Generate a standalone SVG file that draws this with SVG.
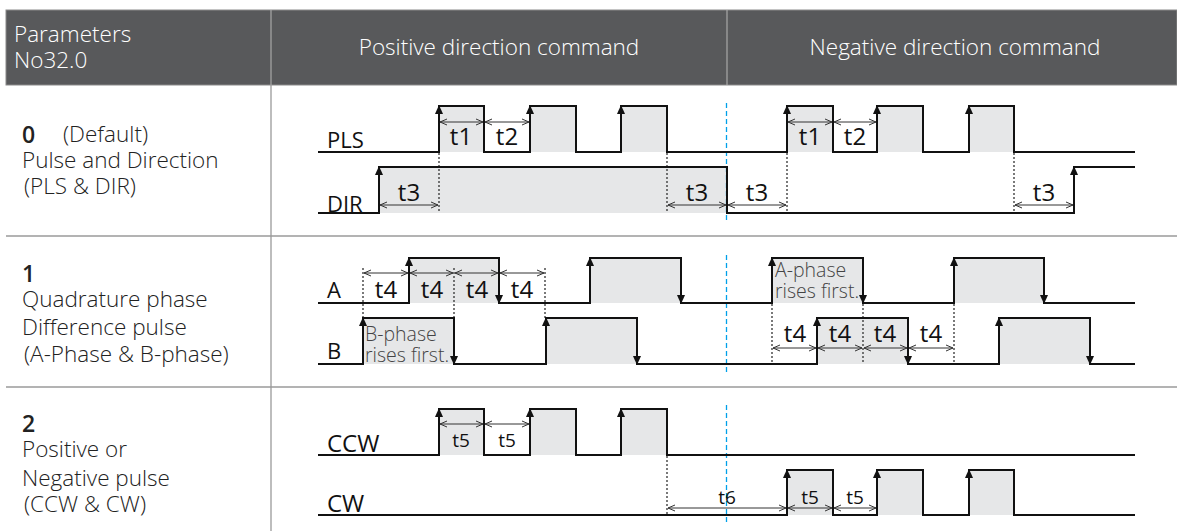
<svg xmlns="http://www.w3.org/2000/svg" width="1177" height="531" viewBox="0 0 1177 531">
<style>
text{font-family:"Open Sans","Noto Sans","Liberation Sans",sans-serif;font-weight:300;fill:#222}
.hd{fill:#fff;font-size:22.5px}
.num{font-weight:600;font-size:23px;fill:#222}
.lt{font-size:22.5px}
.sig{font-size:22px;fill:#111;font-weight:400}
.sigw{font-size:24px;fill:#111;font-weight:400}
.tt{font-size:24px;fill:#111;font-weight:400;text-anchor:middle}
.ts{font-size:19px;fill:#111;font-weight:400;text-anchor:middle}
.note{font-size:19.5px;fill:#444}
.grid{stroke:#9a9a9a;stroke-width:1.3;fill:none}
.wave{fill:none;stroke:#111;stroke-width:2;stroke-linejoin:miter}
.fill{fill:#e6e7e8}
.dot{stroke:#333;stroke-width:1.3;stroke-dasharray:2 2;fill:none}
.dim{stroke:#333;stroke-width:1;fill:none;marker-start:url(#dh);marker-end:url(#dh)}
.blue{stroke:#00a0e9;stroke-width:1.3;stroke-dasharray:5 3;fill:none}
</style>
<defs>
<marker id="dh" viewBox="0 0 8 8" refX="8" refY="4" markerWidth="8" markerHeight="8" markerUnits="userSpaceOnUse" orient="auto-start-reverse">
<path d="M1,1 L8,4 L1,7" fill="none" stroke="#333" stroke-width="1"/>
</marker>
<path id="up" d="M0,-1 L-4,8 L4,8 Z" fill="#111"/>
<path id="dn" d="M0,1 L-4,-8 L4,-8 Z" fill="#111"/>
</defs>
<rect width="1177" height="531" fill="#fff"/>

<g id="table">
<rect x="6" y="10" width="1171" height="75" fill="#58595b" stroke="#8a8a8a" stroke-width="1"/>
<line x1="271" y1="10" x2="271" y2="85" stroke="#a8a8a8" stroke-width="1.2"/>
<line x1="727" y1="10" x2="727" y2="85" stroke="#a8a8a8" stroke-width="1.2"/>
<line class="grid" x1="271" y1="85" x2="271" y2="531"/>
<line class="grid" x1="6" y1="236" x2="1177" y2="236"/>
<line class="grid" x1="6" y1="387" x2="1177" y2="387"/>
<text class="hd" x="14" y="42">Parameters</text>
<text class="hd" x="14" y="68">No32.0</text>
<text class="hd" x="499" y="55" text-anchor="middle">Positive direction command</text>
<text class="hd" x="955" y="55" text-anchor="middle">Negative direction command</text>
</g>

<g id="row0-label">
<text class="num" x="22" y="143">0</text>
<text class="lt" x="63" y="142">(Default)</text>
<text class="lt" x="22" y="168">Pulse and Direction</text>
<text class="lt" x="24" y="194">(PLS &amp; DIR)</text>
</g>
<g id="row1-label">
<text class="num" x="22" y="282">1</text>
<text class="lt" x="22" y="307">Quadrature phase</text>
<text class="lt" x="22" y="335">Difference pulse</text>
<text class="lt" x="24" y="362">(A-Phase &amp; B-phase)</text>
</g>
<g id="row2-label">
<text class="num" x="22" y="432">2</text>
<text class="lt" x="22" y="457">Positive or</text>
<text class="lt" x="22" y="486">Negative pulse</text>
<text class="lt" x="24" y="512">(CCW &amp; CW)</text>
</g>

<g id="fills">
<rect class="fill" x="439" y="106" width="45" height="46"/>
<rect class="fill" x="530" y="106" width="46" height="46"/>
<rect class="fill" x="621" y="106" width="46" height="46"/>
<rect class="fill" x="787" y="106" width="46" height="46"/>
<rect class="fill" x="877" y="106" width="46" height="46"/>
<rect class="fill" x="969" y="106" width="45" height="46"/>
<rect class="fill" x="379" y="167" width="348" height="46"/>
<rect class="fill" x="409" y="258" width="90" height="45"/>
<rect class="fill" x="590" y="258" width="91" height="45"/>
<rect class="fill" x="772" y="258" width="91" height="45"/>
<rect class="fill" x="954" y="258" width="90" height="45"/>
<rect class="fill" x="363" y="318" width="91" height="46"/>
<rect class="fill" x="546" y="318" width="91" height="46"/>
<rect class="fill" x="817" y="318" width="91" height="46"/>
<rect class="fill" x="999" y="318" width="91" height="46"/>
<rect class="fill" x="439" y="409" width="45" height="46"/>
<rect class="fill" x="530" y="409" width="46" height="46"/>
<rect class="fill" x="621" y="409" width="46" height="46"/>
<rect class="fill" x="787" y="470" width="46" height="45"/>
<rect class="fill" x="877" y="470" width="46" height="45"/>
<rect class="fill" x="969" y="470" width="45" height="45"/>
</g>

<g id="dotted">
<line class="dot" x1="439" y1="153" x2="439" y2="213"/>
<line class="dot" x1="667" y1="153" x2="667" y2="213"/>
<line class="dot" x1="787" y1="153" x2="787" y2="213"/>
<line class="dot" x1="1014" y1="153" x2="1014" y2="213"/>
<line class="dot" x1="363" y1="268" x2="363" y2="318"/>
<line class="dot" x1="454" y1="268" x2="454" y2="318"/>
<line class="dot" x1="545" y1="268" x2="545" y2="318"/>
<line class="dot" x1="772" y1="304" x2="772" y2="364"/>
<line class="dot" x1="863" y1="304" x2="863" y2="364"/>
<line class="dot" x1="954" y1="304" x2="954" y2="364"/>
<line class="dot" x1="667" y1="456" x2="667" y2="515"/>
</g>

<g id="blue-divider">
<line class="blue" x1="726.5" y1="103" x2="726.5" y2="222"/>
<line class="blue" x1="726.5" y1="255" x2="726.5" y2="372"/>
<line class="blue" x1="726.5" y1="405" x2="726.5" y2="523"/>
</g>

<g id="signals">
<path class="wave" d="M318,152 H439 V106 H484 V152 H530 V106 H576 V152 H621 V106 H667 V152 H787 V106 H833 V152 H877 V106 H923 V152 H969 V106 H1014 V152 H1135"/>
<path class="wave" d="M318,213 H379 V167 H727 V213 H1074 V167 H1135"/>
<path class="wave" d="M318,303 H409 V258 H499 V303 H590 V258 H681 V303 H772 V258 H863 V303 H954 V258 H1044 V303 H1135"/>
<path class="wave" d="M318,364 H363 V318 H454 V364 H546 V318 H637 V364 H817 V318 H908 V364 H999 V318 H1090 V364 H1135"/>
<path class="wave" d="M318,455 H439 V409 H484 V455 H530 V409 H576 V455 H621 V409 H667 V455 H1135"/>
<path class="wave" d="M318,515 H787 V470 H833 V515 H877 V470 H923 V515 H969 V470 H1014 V515 H1135"/>
</g>

<g id="edge-arrows">
<use href="#up" x="439" y="106"/><use href="#up" x="530" y="106"/><use href="#up" x="621" y="106"/>
<use href="#up" x="787" y="106"/><use href="#up" x="877" y="106"/><use href="#up" x="969" y="106"/>
<use href="#up" x="379" y="167"/><use href="#up" x="1074" y="167"/>
<use href="#up" x="409" y="258"/><use href="#dn" x="499" y="303"/><use href="#up" x="590" y="258"/><use href="#dn" x="681" y="303"/>
<use href="#up" x="772" y="258"/><use href="#dn" x="863" y="303"/><use href="#up" x="954" y="258"/><use href="#dn" x="1044" y="303"/>
<use href="#up" x="363" y="318"/><use href="#dn" x="454" y="364"/><use href="#up" x="546" y="318"/><use href="#dn" x="637" y="364"/>
<use href="#up" x="817" y="318"/><use href="#dn" x="908" y="364"/><use href="#up" x="999" y="318"/><use href="#dn" x="1090" y="364"/>
<use href="#up" x="439" y="409"/><use href="#up" x="530" y="409"/><use href="#up" x="621" y="409"/>
<use href="#up" x="787" y="470"/><use href="#up" x="877" y="470"/><use href="#up" x="969" y="470"/>
</g>

<g id="dimensions">
<line class="dim" x1="440" y1="122" x2="483" y2="122"/>
<line class="dim" x1="485" y1="122" x2="529" y2="122"/>
<line class="dim" x1="788" y1="122" x2="832" y2="122"/>
<line class="dim" x1="834" y1="122" x2="876" y2="122"/>
<line class="dim" x1="380" y1="205" x2="438" y2="205"/>
<line class="dim" x1="668" y1="205" x2="726" y2="205"/>
<line class="dim" x1="728" y1="205" x2="786" y2="205"/>
<line class="dim" x1="1015" y1="205" x2="1073" y2="205"/>
<line class="dim" x1="364" y1="273" x2="408" y2="273"/>
<line class="dim" x1="410" y1="273" x2="453" y2="273"/>
<line class="dim" x1="455" y1="273" x2="498" y2="273"/>
<line class="dim" x1="500" y1="273" x2="544" y2="273"/>
<line class="dim" x1="773" y1="348" x2="816" y2="348"/>
<line class="dim" x1="818" y1="348" x2="862" y2="348"/>
<line class="dim" x1="864" y1="348" x2="907" y2="348"/>
<line class="dim" x1="909" y1="348" x2="953" y2="348"/>
<line class="dim" x1="440" y1="424" x2="483" y2="424"/>
<line class="dim" x1="485" y1="424" x2="529" y2="424"/>
<line class="dim" x1="668" y1="508" x2="786" y2="508"/>
<line class="dim" x1="788" y1="508" x2="832" y2="508"/>
<line class="dim" x1="834" y1="508" x2="876" y2="508"/>
</g>

<g id="labels">
<text class="sig" x="327" y="148">PLS</text>
<text class="sig" x="327" y="212">DIR</text>
<text class="sig" x="327" y="298">A</text>
<text class="sig" x="327" y="359">B</text>
<text class="sigw" x="327" y="452">CCW</text>
<text class="sigw" x="327" y="512">CW</text>
<text class="tt" x="461" y="145">t1</text>
<text class="tt" x="507" y="145">t2</text>
<text class="tt" x="810" y="145">t1</text>
<text class="tt" x="855" y="145">t2</text>
<text class="tt" x="409" y="201">t3</text>
<text class="tt" x="697" y="201">t3</text>
<text class="tt" x="757" y="201">t3</text>
<text class="tt" x="1044" y="201">t3</text>
<text class="tt" x="386" y="298">t4</text>
<text class="tt" x="432" y="298">t4</text>
<text class="tt" x="477" y="298">t4</text>
<text class="tt" x="522" y="298">t4</text>
<text class="tt" x="795" y="342">t4</text>
<text class="tt" x="840" y="342">t4</text>
<text class="tt" x="885" y="342">t4</text>
<text class="tt" x="931" y="342">t4</text>
<text class="ts" x="461" y="447">t5</text>
<text class="ts" x="507" y="447">t5</text>
<text class="ts" x="727" y="504">t6</text>
<text class="ts" x="810" y="504">t5</text>
<text class="ts" x="855" y="504">t5</text>
<text class="note" x="365" y="341">B-phase</text>
<text class="note" x="365" y="362">rises first.</text>
<text class="note" x="775" y="277">A-phase</text>
<text class="note" x="775" y="298">rises first.</text>
</g>
</svg>
